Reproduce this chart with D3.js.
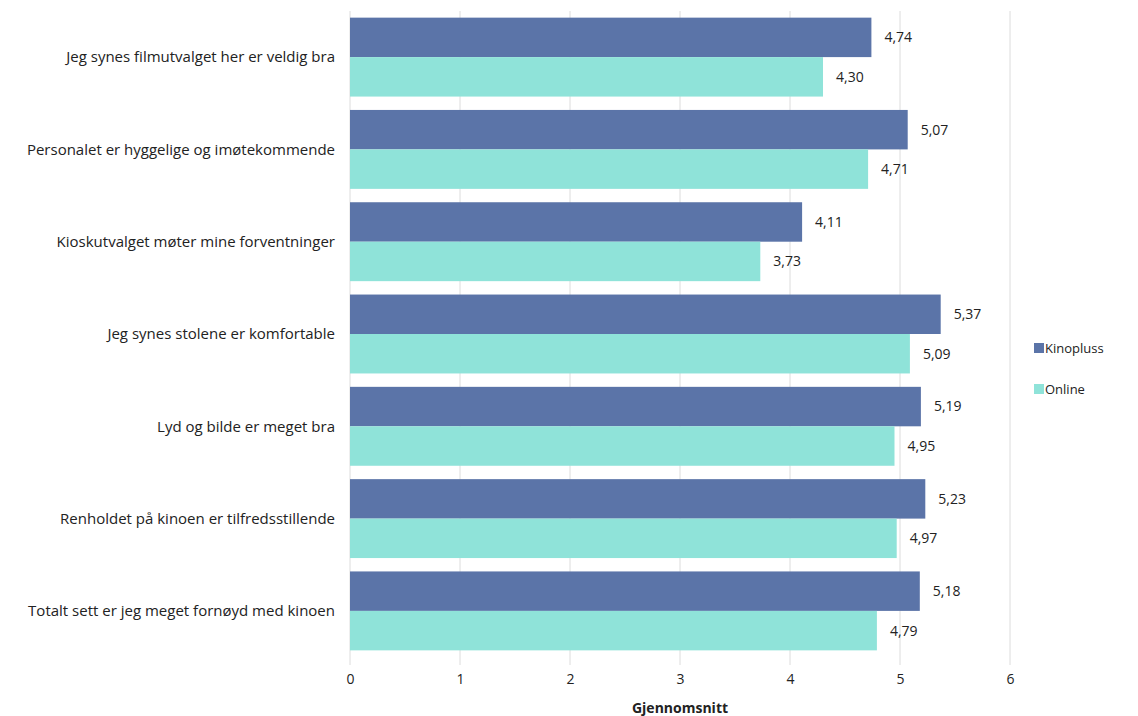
<!DOCTYPE html>
<html>
<head>
<meta charset="utf-8">
<script src="https://cdn.jsdelivr.net/npm/d3@7"></script>
<style>
  html, body { margin: 0; padding: 0; background: #fff; }
  svg { display: block; font-family: "Open Sans", "DejaVu Sans", sans-serif; }
</style>
</head>
<body>
<svg id="chart" width="1138" height="716"></svg>
<script>
// Survey statements (average score per sales channel)
const categories = [
  "Jeg synes filmutvalget her er veldig bra",
  "Personalet er hyggelige og imøtekommende",
  "Kioskutvalget møter mine forventninger",
  "Jeg synes stolene er komfortable",
  "Lyd og bilde er meget bra",
  "Renholdet på kinoen er tilfredsstillende",
  "Totalt sett er jeg meget fornøyd med kinoen"
];
const seriesNames = ["Kinopluss", "Online"];
const kinopluss = [4.74, 5.07, 4.11, 5.37, 5.19, 5.23, 5.18];
const online = [4.30, 4.71, 3.73, 5.09, 4.95, 4.97, 4.79];
const xTicks = [0, 1, 2, 3, 4, 5, 6];
const axisTitle = "Gjennomsnitt";

const colors = { Kinopluss: "#5b74a8", Online: "#8fe3d9" };

const svg = d3.select("#chart");
const margin = { left: 350, right: 128, top: 11, bottom: 59 };
const W = 1138, H = 716;

const x = d3.scaleLinear().domain([0, 6]).range([margin.left, W - margin.right]);
const y = d3.scaleBand().domain(categories).range([margin.top, H - margin.bottom])
  .paddingInner(0.145).paddingOuter(0.072);
const ySub = d3.scaleBand().domain(seriesNames).range([0, y.bandwidth()]);

const rows = categories.map((c, i) => ({ cat: c, values: [
  { name: "Kinopluss", value: kinopluss[i] },
  { name: "Online", value: online[i] }
]}));

// vertical gridlines
const gridBottom = H - margin.bottom + 8;
svg.append("g").selectAll("line").data(xTicks).join("line")
  .attr("x1", d => x(d)).attr("x2", d => x(d))
  .attr("y1", margin.top).attr("y2", gridBottom)
  .attr("stroke", "#dcdcdc").attr("stroke-width", 1);

// bars
const groups = svg.append("g").selectAll("g").data(rows).join("g")
  .attr("transform", d => `translate(0,${y(d.cat)})`);
groups.selectAll("rect").data(d => d.values).join("rect")
  .attr("x", x(0))
  .attr("y", d => ySub(d.name))
  .attr("width", d => x(d.value) - x(0))
  .attr("height", ySub.bandwidth())
  .attr("fill", d => colors[d.name]);

// value labels
groups.selectAll("text").data(d => d.values).join("text")
  .attr("x", d => x(d.value) + 13)
  .attr("y", d => ySub(d.name) + ySub.bandwidth() / 2)
  .attr("dy", "0.35em")
  .attr("font-size", 14)
  .attr("fill", "#222")
  .text(d => d.value.toFixed(2).replace(".", ","));

// category labels
svg.append("g").selectAll("text").data(categories).join("text")
  .attr("x", 335)
  .attr("y", d => y(d) + y.bandwidth() / 2)
  .attr("dy", "0.35em")
  .attr("text-anchor", "end")
  .attr("font-size", 15)
  .attr("fill", "#222")
  .text(d => d);

// x axis tick labels
const xAxis = d3.axisBottom(x).tickValues(xTicks).tickSize(0).tickPadding(0)
  .tickFormat(d3.format("d"));
const gx = svg.append("g").attr("transform", `translate(0,${H - margin.bottom + 17})`).call(xAxis);
gx.select(".domain").remove();
gx.selectAll("text").attr("font-size", 14).attr("fill", "#222")
  .attr("font-family", "\"Open Sans\", sans-serif");

// axis title
svg.append("text")
  .attr("x", (x(0) + x(6)) / 2)
  .attr("y", 713)
  .attr("text-anchor", "middle")
  .attr("font-size", 14)
  .attr("font-weight", "bold")
  .attr("fill", "#222")
  .text(axisTitle);

// legend
const legend = svg.append("g").attr("transform", "translate(1034,348)");
seriesNames.forEach((name, i) => {
  const g = legend.append("g").attr("transform", `translate(0,${i * 41})`);
  g.append("rect").attr("x", 0).attr("y", -5).attr("width", 10).attr("height", 10)
    .attr("fill", colors[name]);
  g.append("text").attr("x", 11).attr("y", 0).attr("dy", "0.35em")
    .attr("font-size", 13).attr("fill", "#222").text(name);
});
</script>
</body>
</html>
